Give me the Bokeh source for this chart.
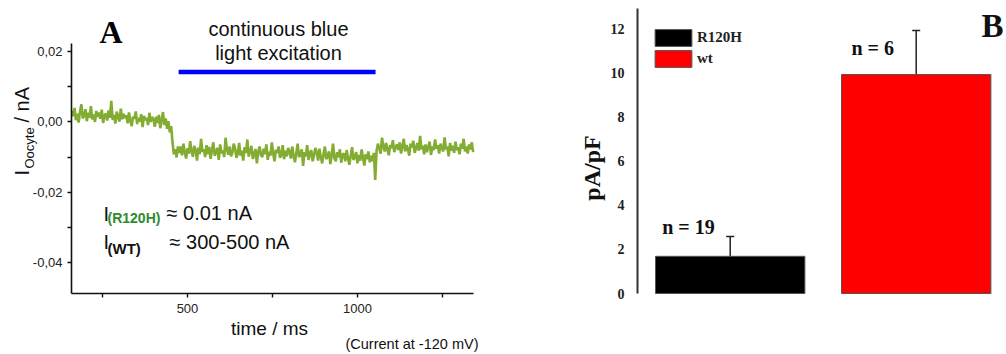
import math
from bokeh.plotting import figure
from bokeh.layouts import row
from bokeh.models import (FixedTicker, CustomJSTickFormatter, Label, Legend, LegendItem,
                          Whisker, TeeHead, ColumnDataSource, Range1d, LinearAxis)
from bokeh.embed import file_html
from bokeh.resources import INLINE

# ---------------- Panel A data ----------------
# oocyte current trace, in units of 1e-4 nA, sampled every 4 ms from 160 ms
trace_e4 = [
    32, 16, 40, 5, 23, -2, 29, 50, 10, 18, 36, 2, 26, 12, 45, 7, 21, 0, 31, 14,
    27, 9, 35, -3, 18, 24, 4, 33, 12, 60, 6, 20, -5, 29, 15, 1, 38, 8, 23, 11,
    19, -4, 27, 3, -12, 15, 9, 30, -6, 12, 1, 22, -15, 17, 5, 11, -9, 26, 0, 14,
    8, -14, 15, -3, 20, -18, 4, 28, -9, 10, -20, 2, -30, -12, -58, -92, -78, -101, -70, -88,
    -70, -95, -62, -86, -104, -75, -90, -55, -84, -99, -68, -80, -110, -73, -92, -48, -85, -78, -100, -66,
    -92, -71, -105, -80, -58, -96, -86, -74, -108, -64, -89, -82, -100, -45, -79, -93, -70, -98, -88, -62,
    -75, -102, -90, -60, -96, -82, -110, -72, -88, -50, -99, -84, -68, -105, -92, -77, -118, -86, -70, -94,
    -100, -76, -92, -64, -108, -85, -96, -58, -90, -112, -79, -88, -70, -102, -94, -66, -106, -82, -98, -74,
    -84, -104, -70, -96, -115, -88, -62, -100, -92, -78, -125, -86, -98, -66, -108, -90, -80, -112, -95, -74,
    -88, -110, -76, -100, -118, -92, -70, -106, -98, -84, -120, -96, -62, -104, -112, -86, -100, -78, -116, -93,
    -90, -112, -80, -104, -122, -96, -72, -108, -100, -86, -118, -94, -110, -78, -102, -124, -92, -106, -84, -115,
    -96, -112, -88, -165, -82, -62, -76, -90, -45, -70, -84, -60, -78, -95, -66, -74, -52, -86, -72, -64,
    -80, -58, -90, -70, -48, -84, -66, -76, -96, -62, -72, -54, -88, -74, -60, -82, -40, -78, -68, -92,
    -64, -86, -72, -56, -94, -70, -80, -50, -76, -66, -90, -62, -74, -84, -44, -78, -70, -98, -60, -82,
    -68, -88, -56, -80, -72, -92, -62, -76, -48, -84, -70, -90, -64, -78, -58, -86,
]
trace_t0_ms = 160
trace_dt_ms = 4
light_on_ms = [474, 1053]
light_level_nA = 0.0142
xA_ticks = [500, 1000]
xA_minor = [250, 750, 1250]
yA_ticks = [-0.04, -0.02, 0.0, 0.02]
yA_minor = [-0.03, -0.01, 0.01]

# ---------------- Panel B data ----------------
groups = ["R120H", "wt"]
means = [1.69, 9.95]
sems = [0.90, 2.00]
n_labels = ["n = 19", "n = 6"]
bar_colors = ["#000000", "#ff0000"]
yB_ticks = [0, 2, 4, 6, 8, 10, 12]

# ---------------- Panel A ----------------
AX0, AX1, AXMIN, AXMAX = 71, 473, 159.0, 1341.0
AY0, AY1, AYMAX, AYMIN = 43, 293, 0.0223, -0.0488
WA, H = 500, 354


def ax(px):
    return AXMIN + (px - AX0) * (AXMAX - AXMIN) / (AX1 - AX0)


def ay(py):
    return AYMAX - (py - AY0) * (AYMAX - AYMIN) / (AY1 - AY0)


pA = figure(width=WA, height=H, output_backend="svg", toolbar_location=None,
            x_range=Range1d(ax(0), ax(WA)), y_range=Range1d(ay(H), ay(0)),
            x_axis_type=None, y_axis_type=None,
            min_border_left=0, min_border_right=0, min_border_top=0, min_border_bottom=0)
pA.title.visible = False
pA.outline_line_color = None
pA.background_fill_color = "white"
pA.border_fill_color = "white"

t = [trace_t0_ms + trace_dt_ms * i for i in range(len(trace_e4))]
y = [v * 1e-4 for v in trace_e4]
pA.line(t, y, line_color="#6d9d0e", line_width=2.6, line_alpha=0.85)
pA.line(light_on_ms, [light_level_nA, light_level_nA], line_color="#0000ff", line_width=4.5)

yA = LinearAxis(fixed_location=AXMIN, bounds=(AYMIN, AYMAX),
                ticker=FixedTicker(ticks=yA_ticks, minor_ticks=yA_minor),
                formatter=CustomJSTickFormatter(code="return tick.toFixed(2).replace('.', ',');"))
xA = LinearAxis(fixed_location=AYMIN, bounds=(AXMIN, AXMAX),
                ticker=FixedTicker(ticks=xA_ticks, minor_ticks=xA_minor))
for a in (xA, yA):
    a.axis_line_width = 1.6
    a.axis_line_color = "#111111"
    a.major_tick_line_width = 1.4
    a.minor_tick_line_width = 1.4
    a.major_tick_line_color = "#111111"
    a.minor_tick_line_color = "#111111"
    a.major_tick_out = 4
    a.major_tick_in = 0
    a.minor_tick_out = 4
    a.minor_tick_in = 0
    a.major_label_text_font = "Liberation Sans"
    a.major_label_text_font_size = "13px"
    a.major_label_text_color = "#222222"
xA.major_label_standoff = 6
yA.major_label_standoff = 5
pA.add_layout(yA, "left")
pA.add_layout(xA, "below")


def labA(px, base, text, fs, font="Liberation Sans", style="normal", color="#111111",
         align="left", rotated=False):
    # base: pixel position of the text baseline (y, or x when rotated)
    if rotated:
        xx, yy, ang = ax(base - 0.35 * fs), ay(px), math.pi / 2
    else:
        xx, yy, ang = ax(px), ay(base - 0.35 * fs), 0.0
    pA.add_layout(Label(x=xx, y=yy, text=text, text_font=font,
                        text_font_size=f"{fs}px", text_font_style=style, text_color=color,
                        text_align=align, text_baseline="middle", angle=ang))


labA(110.5, 43, "A", 32, font="Liberation Serif", style="bold", color="#000000", align="center")
labA(278, 35, "continuous blue", 20, align="center")
labA(278, 59, "light excitation", 20, align="center")
labA(103, 220, "I", 20)
labA(107, 222, "(R120H)", 14, style="bold", color="#2e8b2e")
labA(166, 219, "\u2248 0.01 nA", 20)
labA(103, 248, "I", 20)
labA(107, 253, "(WT)", 15, style="bold")
labA(169, 248, "\u2248 300-500 nA", 20)
labA(269, 335, "time / ms", 19, align="center")
labA(345, 349, "(Current at -120 mV)", 14.5)
labA(175, 28.5, "I", 20, rotated=True)
labA(168, 33.5, "Oocyte", 13, rotated=True)
labA(122, 28.5, "/ nA", 20, rotated=True)

# ---------------- Panel B ----------------
WB = 506
OFFB = WA  # canvas x where panel B starts
PXU = 186.0  # pixels per category step
BXMIN = 1 - (729.7 - 637) / PXU
BY0, BY1, BYMAX, BYMIN = 8, 293, 12.95, 0.0


def bx(px):  # canvas px -> data
    return BXMIN + (px - 637) / PXU


def by(py):
    return BYMAX - (py - BY0) * (BYMAX - BYMIN) / (BY1 - BY0)


pB = figure(width=WB, height=H, output_backend="svg", toolbar_location=None,
            x_range=Range1d(bx(OFFB), bx(OFFB + WB)), y_range=Range1d(by(H), by(0)),
            x_axis_type=None, y_axis_type=None,
            min_border_left=0, min_border_right=0, min_border_top=0, min_border_bottom=0)
pB.title.visible = False
pB.outline_line_color = None
pB.background_fill_color = "white"
pB.border_fill_color = "white"

xpos = [i + 1 for i in range(len(groups))]
srcB = ColumnDataSource(dict(x=xpos, top=means, color=bar_colors, group=groups,
                             upper=[m + s for m, s in zip(means, sems)],
                             lower=[m - s for m, s in zip(means, sems)]))
bars = pB.vbar(x="x", top="top", width=0.803, bottom=0, source=srcB,
               fill_color="color", line_color="#555555", line_width=1)
pB.add_layout(Whisker(source=srcB, base="x", upper="upper", lower="lower",
                      dimension="height", line_color="#222222", line_width=1.5,
                      upper_head=TeeHead(size=8, line_color="#222222", line_width=1.5),
                      lower_head=TeeHead(size=8, line_color="#222222", line_width=1.5)))

yB = LinearAxis(fixed_location=BXMIN, bounds=(BYMIN, BYMAX), ticker=FixedTicker(ticks=yB_ticks))
yB.minor_tick_line_color = None
yB.major_tick_line_color = None
yB.axis_line_width = 2
yB.axis_line_color = "#333333"
yB.major_label_text_font = "Liberation Serif"
yB.major_label_text_font_style = "bold"
yB.major_label_text_font_size = "14px"
yB.major_label_text_color = "#222222"
yB.major_label_standoff = 7
pB.add_layout(yB, "left")

legend = Legend(items=[LegendItem(label=g, renderers=[bars], index=i) for i, g in enumerate(groups)],
                location=(150, 285), orientation="vertical", glyph_width=46, glyph_height=21,
                label_height=21, spacing=0, padding=0, margin=0, label_standoff=1,
                border_line_color=None, background_fill_alpha=0,
                label_text_font="Liberation Serif", label_text_font_style="bold",
                label_text_font_size="15px", label_text_color="#222222")
pB.add_layout(legend)


def labB(px, base, text, fs, align="left", rotated=False):
    if rotated:
        xx, yy, ang = bx(base - 0.35 * fs), by(px), math.pi / 2
    else:
        xx, yy, ang = bx(px), by(base - 0.35 * fs), 0.0
    pB.add_layout(Label(x=xx, y=yy, text=text, text_font="Liberation Serif",
                        text_font_size=f"{fs}px", text_font_style="bold", text_color="#111111",
                        text_align=align, text_baseline="middle", angle=ang))


labB(661.7, 233.3, n_labels[0], 20)
labB(851, 54.3, n_labels[1], 20)
labB(167.5, 600, "pA/pF", 24, align="center", rotated=True)
labB(981, 37, "B", 33)

layout = row(pA, pB)
open("out.html", "w").write(file_html(layout, INLINE))
